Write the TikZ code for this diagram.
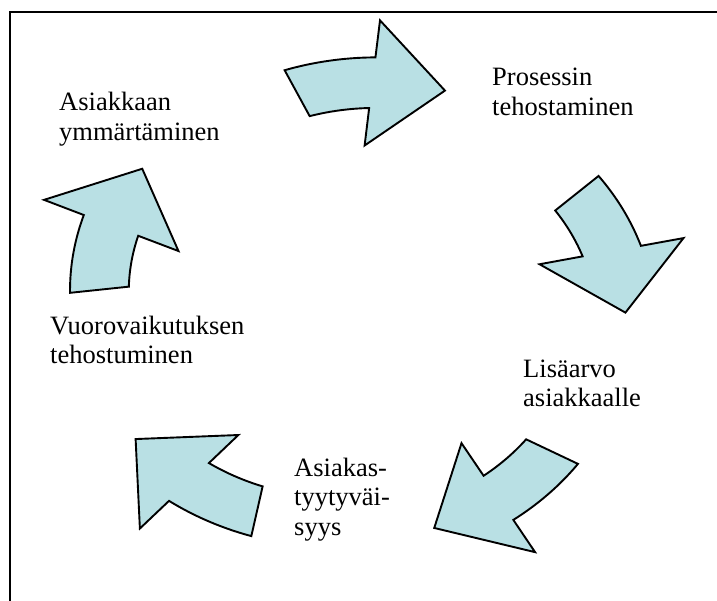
\documentclass[tikz,border=0pt]{standalone}
\usepackage{fontspec}
\setmainfont{Liberation Serif}
\begin{document}
\begin{tikzpicture}[x=1pt,y=-1pt,
  cyclearrow/.style={draw=black,line width=1.9pt,line join=miter,fill=arrowfill},
  label/.style={anchor=base west,inner sep=0pt,align=left,
    font=\fontsize{26.5}{29.5}\selectfont},
  % one curved arrow of the cycle: tip on the #1 degree ray,
  % tail running counter-clockwise behind it
  cyclearrowpic/.pic={
    \path[cyclearrow] ({#1}:269) -- ({#1+15.2}:337) -- ({#1+15.5}:293.5)
      -- plot[domain=15.5:33.7,samples=25] ({#1+\x}:{293.5-6.5*(\x-15.5)/18.2})
      -- ({#1+31}:229)
      -- plot[domain=0:14.9,samples=25] ({#1+31-\x}:{229+5*\x/14.9})
      -- ({#1+16.75}:190) -- cycle;
  }]
\definecolor{arrowfill}{RGB}{185,224,228}
\useasboundingbox (0,0) rectangle (717,601);

% frame (top and left edges)
\draw[line width=2pt] (10,601) -- (10,12.5) -- (717,12.5);

% five arrows around a slightly flattened circle
\begin{scope}[shift={(356.5,307.8)},x={(1pt,0pt)},y={(0pt,0.855pt)}]
  \pic (toparrow)        {cyclearrowpic=70.8};
  \pic (rightarrow)      {cyclearrowpic=-1.2};
  \pic (lowerrightarrow) {cyclearrowpic=-73.2};
  \pic (lowerleftarrow)  {cyclearrowpic=-145.2};
  \pic (leftarrow)       {cyclearrowpic=142.8};
\end{scope}

% labels (anchored at the baseline of the last line)
\node[label] (prosessi) at (492,115.5) {Prosessin\\tehostaminen};
\node[label] (lisaarvo) at (523,406.5) {Lisäarvo\\asiakkaalle};
\node[label] (tyytyvaisyys) at (294,535) {Asiakas-\\tyytyväi-\\syys};
\node[label] (vuorovaikutus) at (50,363.5) {Vuorovaikutuksen\\tehostuminen};
\node[label] (ymmarrys) at (59,140.5) {Asiakkaan\\ymmärtäminen};
\end{tikzpicture}
\end{document}
